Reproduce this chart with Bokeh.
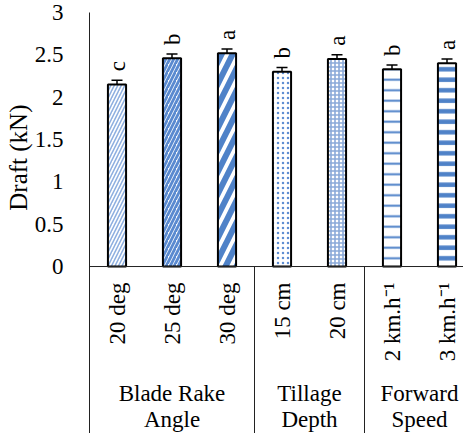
import math
from bokeh.plotting import figure
from bokeh.models import Range1d, FixedTicker, Span, Whisker, TeeHead, ColumnDataSource, Title
from bokeh.core.properties import value
from bokeh.embed import file_html
from bokeh.resources import INLINE

# ---- data ----
levels = ["20 deg", "25 deg", "30 deg", "15 cm", "20 cm", "2 km.h\u207b\u00b9", "3 km.h\u207b\u00b9"]
group_line1 = ["Blade Rake", "Tillage", "Forward"]
group_line2 = ["Angle", "Depth", "Speed"]
group_sizes = [3, 2, 2]
draft = [2.15, 2.46, 2.52, 2.30, 2.45, 2.33, 2.40]
err = [0.05, 0.05, 0.05, 0.05, 0.05, 0.05, 0.05]
letters = ["c", "b", "a", "b", "a", "b", "a"]
y_ticks = [0, 0.5, 1, 1.5, 2, 2.5, 3]
y_tick_labels = ["0", "0.5", "1", "1.5", "2", "2.5", "3"]

# ---- styles ----
FONT = "Liberation Serif"
FS = "23px"
hatch_patterns = ["right_diagonal_line", "right_diagonal_line", "right_diagonal_line",
                  "dot", "cross", "horizontal_line", "horizontal_line"]
hatch_colors = ["#8FB0E0", "#5A8AD0", "#4F82C8", "#5E8ED2", "#8AA9D8", "#4F82C8", "#4F82C8"]
hatch_scales = [7, 8, 22, 5, 4, 10.5, 10.5]
hatch_weights = [1.6, 2.8, 6, 2.6, 1.6, 2, 4.5]

xs = list(range(len(levels)))
n = len(levels)

p = figure(width=463, height=433, output_backend="svg", toolbar_location=None,
           x_range=Range1d(-0.5, 6.3), y_range=Range1d(-1.972, 3.0),
           min_border_left=89, min_border_right=0, min_border_top=12, min_border_bottom=0)
p.background_fill_color = "white"
p.border_fill_color = "white"
p.outline_line_color = None
p.xgrid.visible = False
p.ygrid.visible = False
p.xaxis.visible = False

ya = p.yaxis[0]
ya.ticker = FixedTicker(ticks=y_ticks)
ya.major_label_overrides = {t: l for t, l in zip(y_ticks, y_tick_labels)}
ya.major_tick_line_color = None
ya.minor_tick_line_color = None
ya.axis_line_color = "#222222"
ya.axis_line_width = 1
ya.major_label_text_font = FONT
ya.major_label_text_font_size = FS
ya.major_label_text_color = "black"
ya.major_label_standoff = 20

# y axis title
p.add_layout(Title(text="Draft (kN)", align="right", offset=92, standoff=0,
                   text_font=FONT, text_font_size="25px",
                   text_font_style="normal", text_color="black"), "left")

# baseline
p.add_layout(Span(location=0, dimension="width", line_color="#222222", line_width=1))

# bars
for i in range(n):
    p.vbar(x=[xs[i]], top=[draft[i]], bottom=0, width=0.33,
           fill_color="white", line_color="black", line_width=2,
           hatch_pattern=hatch_patterns[i], hatch_color=hatch_colors[i],
           hatch_scale=hatch_scales[i], hatch_weight=hatch_weights[i])

# error bars
src = ColumnDataSource(dict(x=xs, upper=[d + e for d, e in zip(draft, err)],
                            lower=[d - e for d, e in zip(draft, err)]))
wh = Whisker(source=src, base="x", upper="upper", lower="lower",
             line_color="black", line_width=1.5,
             upper_head=TeeHead(size=11, line_color="black", line_width=1.5),
             lower_head=TeeHead(size=11, line_color="black", line_width=1.5))
p.add_layout(wh)

# significance letters
p.text(x=xs, y=[d + e for d, e in zip(draft, err)], text=letters, angle=math.pi / 2,
       text_align="left", text_baseline="middle", y_offset=-9,
       text_font=value(FONT), text_font_size=FS, text_color="black")

# category labels
p.text(x=xs, y=[0] * n, text=levels, angle=math.pi / 2,
       text_align="right", text_baseline="middle", y_offset=16,
       text_font=value(FONT), text_font_size=FS, text_color="black")

# group separators and labels
bounds = [-0.5]
for s in group_sizes:
    bounds.append(bounds[-1] + s)
sep_x = bounds[1:]
p.segment(x0=sep_x, y0=[0] * len(sep_x), x1=sep_x, y1=[-1.972] * len(sep_x),
          line_color="#222222", line_width=1)
centers = [(bounds[k] + bounds[k + 1]) / 2 for k in range(len(group_sizes))]
p.text(x=centers, y=[0] * 3, text=group_line1, text_align="center", text_baseline="middle",
       y_offset=127, text_font=value(FONT), text_font_size=FS, text_color="black")
p.text(x=centers, y=[0] * 3, text=group_line2, text_align="center", text_baseline="middle",
       y_offset=153, text_font=value(FONT), text_font_size=FS, text_color="black")

open("out.html", "w").write(file_html(p, INLINE))
